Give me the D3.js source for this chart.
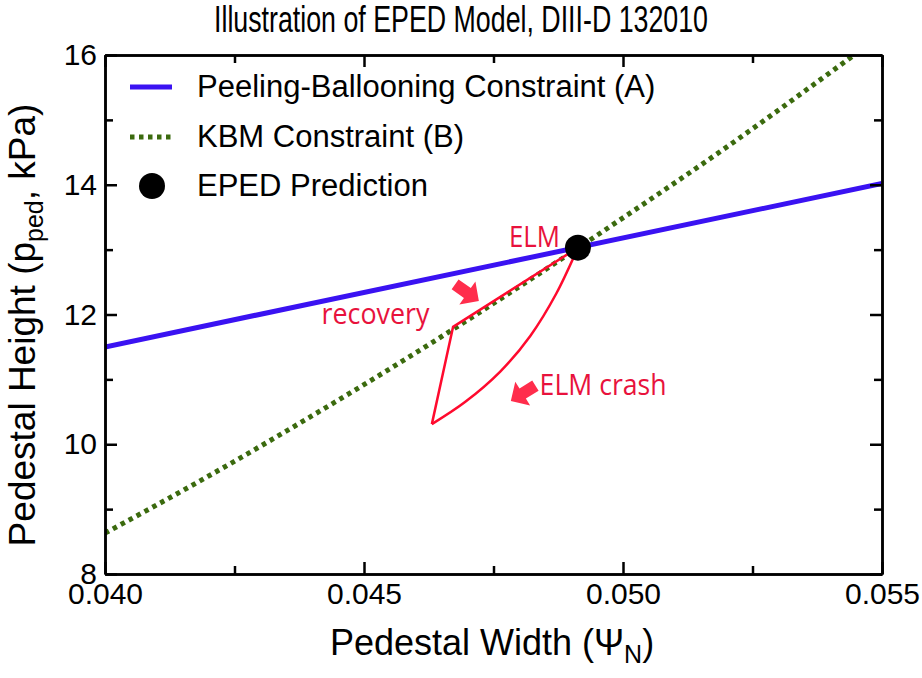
<!DOCTYPE html>
<html><head><meta charset="utf-8">
<script src="https://cdn.jsdelivr.net/npm/d3@7"></script>
<style>
body{margin:0;background:#fff;}
svg{display:block;}
</style></head>
<body>
<svg id="chart" width="922" height="678"></svg>
<script>
// ---- data ----
const xMajorTicks = [0.040, 0.045, 0.050, 0.055];
const xMinorTicks = [0.0425, 0.0475, 0.0525];
const yMajorTicks = [8, 10, 12, 14, 16];
const yMinorTicks = [9, 11, 13, 15];

const pbWidth = [0.040, 0.055];
const pbHeight = [11.50, 14.02];

const kbmWidth = [0.040, 0.042, 0.044, 0.046, 0.048, 0.050, 0.052, 0.054, 0.0546];
const kbmHeight = [8.63, 9.51, 10.44, 11.41, 12.43, 13.49, 14.58, 15.73, 16.08];

const epedWidth = [0.04913];
const epedHeight = [13.03];

// ELM cycle: from prediction down the recovery line to the crash tip
const cycleLineW = [0.04913, 0.04672, 0.04631];
const cycleLineP = [13.03, 11.81, 10.31];
// crash curve back up to prediction
const cycleCurveW = [0.04631, 0.04695, 0.04763, 0.04821, 0.04871, 0.04913];
const cycleCurveP = [10.31, 10.65, 11.12, 11.67, 12.32, 13.03];

const legendLabels = ["Peeling-Ballooning Constraint (A)", "KBM Constraint (B)", "EPED Prediction"];
const titleText = "Illustration of EPED Model, DIII-D 132010";

// ---- layout ----
const svg = d3.select("#chart");
const L = 105, R = 882, T = 55, B = 574;
const x = d3.scaleLinear().domain([0.040, 0.055]).range([L, R]);
const y = d3.scaleLinear().domain([8, 16]).range([B, T]);

const blue = "#3a12f2", green = "#3b6a0e", red = "#ff0a2e", redText = "#e8123c", arrowRed = "#ff2d4c";
const blackFont = "'Liberation Sans', Arial, Helvetica, sans-serif";
const redFont = "'Open Sans', 'Noto Sans', sans-serif";

svg.append("defs").append("clipPath").attr("id", "clip")
  .append("rect").attr("x", L).attr("y", T).attr("width", R - L).attr("height", B - T);

// title
svg.append("text").attr("x", 461).attr("y", 32).attr("text-anchor", "middle")
  .attr("font-family", blackFont).attr("font-size", 37)
  .attr("textLength", 494).attr("lengthAdjust", "spacingAndGlyphs")
  .text(titleText);

// ---- series ----
const plot = svg.append("g").attr("clip-path", "url(#clip)");

plot.append("path").datum(d3.zip(kbmWidth, kbmHeight))
  .attr("d", d3.line().x(d => x(d[0])).y(d => y(d[1])).curve(d3.curveMonotoneX)).attr("fill", "none")
  .attr("stroke", green).attr("stroke-width", 5).attr("stroke-dasharray", "4.5,4.5");

plot.append("path").datum(d3.zip(pbWidth, pbHeight))
  .attr("d", d3.line().x(d => x(d[0])).y(d => y(d[1]))).attr("fill", "none")
  .attr("stroke", blue).attr("stroke-width", 5);

plot.append("path").datum(d3.zip(cycleLineW, cycleLineP))
  .attr("d", d3.line().x(d => x(d[0])).y(d => y(d[1]))).attr("fill", "none")
  .attr("stroke", red).attr("stroke-width", 2.5).attr("stroke-linejoin", "miter");

plot.append("path").datum(d3.zip(cycleCurveW, cycleCurveP))
  .attr("d", d3.line().x(d => x(d[0])).y(d => y(d[1])).curve(d3.curveCatmullRom)).attr("fill", "none")
  .attr("stroke", red).attr("stroke-width", 2.5);

plot.selectAll("circle.eped").data(d3.zip(epedWidth, epedHeight)).join("circle")
  .attr("cx", d => x(d[0])).attr("cy", d => y(d[1])).attr("r", 13).attr("fill", "#000");

// block arrows
function blockArrow(cx, cy, angle) {
  const shape = [[-14,-6],[1,-6],[1,-14],[15,0],[1,14],[1,6],[-14,6]];
  svg.append("polygon").attr("points", shape.map(p => p.join(",")).join(" "))
    .attr("fill", arrowRed)
    .attr("transform", `translate(${cx},${cy}) rotate(${angle})`);
}
blockArrow(x(0.04698), y(12.34), 35);
blockArrow(x(0.04808), y(10.79), 148);

// annotations: label, width, height, rendered length
const ann = [["ELM", 0.04780, 13.02, 51], ["recovery", 0.04418, 11.84, 108], ["ELM crash", 0.04839, 10.75, 127]];
svg.selectAll("text.ann").data(ann).join("text")
  .attr("x", d => x(d[1])).attr("y", d => y(d[2]) - 1)
  .attr("font-family", redFont).attr("font-size", 29).attr("fill", redText)
  .attr("textLength", d => d[3]).attr("lengthAdjust", "spacingAndGlyphs")
  .text(d => d[0]);

// ---- axes (ticks inward on all four sides) ----
function styleAxis(g) {
  g.selectAll("path.domain").attr("stroke", "#000").attr("stroke-width", 2.5);
  g.selectAll(".tick line").attr("stroke", "#000").attr("stroke-width", 2.5);
  g.selectAll(".tick text").attr("font-family", blackFont).attr("font-size", 30).attr("fill", "#000");
}
const fmtX = d3.format(".3f");
svg.append("g").attr("transform", `translate(0,${B})`)
  .call(d3.axisBottom(x).tickValues(xMajorTicks).tickFormat(fmtX).tickSizeInner(-12).tickSizeOuter(0).tickPadding(10))
  .call(styleAxis).call(g => g.selectAll(".tick text").attr("dy", "0.71em").attr("y", 9));
svg.append("g").attr("transform", `translate(0,${B})`)
  .call(d3.axisBottom(x).tickValues(xMinorTicks).tickFormat("").tickSizeInner(-8).tickSizeOuter(0))
  .call(styleAxis);
svg.append("g").attr("transform", `translate(0,${T})`)
  .call(d3.axisTop(x).tickValues(xMajorTicks).tickFormat("").tickSizeInner(-12).tickSizeOuter(0))
  .call(styleAxis);
svg.append("g").attr("transform", `translate(0,${T})`)
  .call(d3.axisTop(x).tickValues(xMinorTicks).tickFormat("").tickSizeInner(-8).tickSizeOuter(0))
  .call(styleAxis);
svg.append("g").attr("transform", `translate(${L},0)`)
  .call(d3.axisLeft(y).tickValues(yMajorTicks).tickFormat(d3.format("d")).tickSizeInner(-12).tickSizeOuter(0).tickPadding(12))
  .call(styleAxis).call(g => g.selectAll(".tick text").attr("x", -8));
svg.append("g").attr("transform", `translate(${L},0)`)
  .call(d3.axisLeft(y).tickValues(yMinorTicks).tickFormat("").tickSizeInner(-8).tickSizeOuter(0))
  .call(styleAxis);
svg.append("g").attr("transform", `translate(${R},0)`)
  .call(d3.axisRight(y).tickValues(yMajorTicks).tickFormat("").tickSizeInner(-12).tickSizeOuter(0))
  .call(styleAxis);
svg.append("g").attr("transform", `translate(${R},0)`)
  .call(d3.axisRight(y).tickValues(yMinorTicks).tickFormat("").tickSizeInner(-8).tickSizeOuter(0))
  .call(styleAxis);

// ---- legend ----
const lg = svg.append("g");
const rows = [87, 137, 186];
lg.append("line").attr("x1", 130).attr("x2", 172).attr("y1", rows[0]).attr("y2", rows[0])
  .attr("stroke", blue).attr("stroke-width", 5);
lg.append("line").attr("x1", 130).attr("x2", 172).attr("y1", rows[1]).attr("y2", rows[1])
  .attr("stroke", green).attr("stroke-width", 5).attr("stroke-dasharray", "4.5,4.5");
lg.append("circle").attr("cx", 152).attr("cy", rows[2]).attr("r", 13).attr("fill", "#000");
lg.selectAll("text").data(legendLabels).join("text")
  .attr("x", 197).attr("y", (d, i) => rows[i] + 10)
  .attr("font-family", blackFont).attr("font-size", 31).text(d => d);

// ---- axis titles ----
const xt = svg.append("text").attr("x", 492).attr("y", 655).attr("text-anchor", "middle")
  .attr("font-family", blackFont).attr("font-size", 36);
xt.append("tspan").text("Pedestal Width (\u03A8");
xt.append("tspan").attr("font-size", 25).attr("dy", 8).text("N");
xt.append("tspan").attr("dy", -8).text(")");

const yt = svg.append("text").attr("transform", "translate(35,325) rotate(-90)").attr("text-anchor", "middle")
  .attr("font-family", blackFont).attr("font-size", 37);
yt.append("tspan").text("Pedestal Height (p");
yt.append("tspan").attr("font-size", 25).attr("dy", 8).text("ped");
yt.append("tspan").attr("dy", -8).text(", kPa)");
</script>
</body></html>
